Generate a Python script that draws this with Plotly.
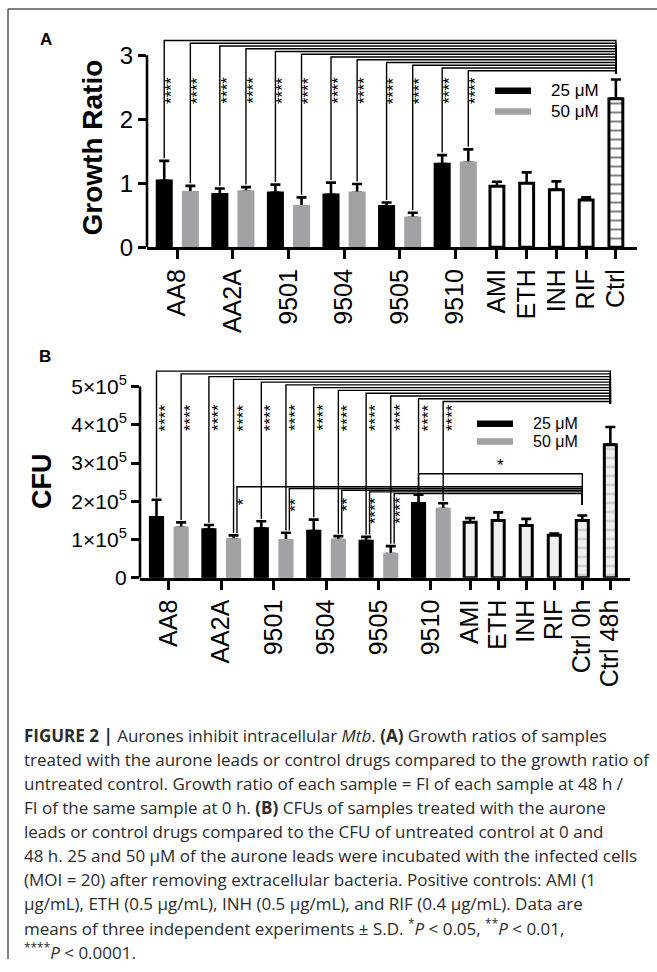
import plotly.graph_objects as go

# ---------------- data ----------------
compounds = ["AA8", "AA2A", "9501", "9504", "9505", "9510"]
controls_a = ["AMI", "ETH", "INH", "RIF", "Ctrl"]
controls_b = ["AMI", "ETH", "INH", "RIF", "Ctrl 0h", "Ctrl 48h"]
dose_labels = ["25 μM", "50 μM"]

# Panel A: growth ratio
ratio_25 = [1.04, 0.83, 0.85, 0.82, 0.64, 1.30]
ratio_25_sd = [0.31, 0.09, 0.13, 0.19, 0.06, 0.14]
ratio_50 = [0.86, 0.87, 0.64, 0.85, 0.46, 1.32]
ratio_50_sd = [0.10, 0.07, 0.14, 0.14, 0.08, 0.21]
ratio_ctrl = [0.955, 1.00, 0.90, 0.74, 2.32]
ratio_ctrl_sd = [0.07, 0.17, 0.13, 0.04, 0.30]

# Panel B: CFU
cfu_25 = [1.58e5, 1.26e5, 1.29e5, 1.22e5, 0.96e5, 1.95e5]
cfu_25_sd = [0.46e5, 0.12e5, 0.19e5, 0.30e5, 0.11e5, 0.22e5]
cfu_50 = [1.31e5, 1.00e5, 0.98e5, 0.99e5, 0.62e5, 1.80e5]
cfu_50_sd = [0.14e5, 0.11e5, 0.20e5, 0.10e5, 0.21e5, 0.15e5]
cfu_ctrl = [1.45e5, 1.50e5, 1.37e5, 1.11e5, 1.50e5, 3.48e5]
cfu_ctrl_sd = [0.11e5, 0.21e5, 0.17e5, 0.05e5, 0.13e5, 0.46e5]

# significance (order: AA8-25, AA8-50, AA2A-25, AA2A-50, ...)
stars_a_vs_ctrl = ["****"] * 12
stars_b_vs_48h = ["****"] * 12
stars_b_vs_0h = ["", "", "", "*", "", "**", "", "**", "****", "****", "", ""]
stars_b_9510_vs_0h = "*"

ytick_a = [0, 1, 2, 3]
ytick_b = [0, 1e5, 2e5, 3e5, 4e5, 5e5]
ytick_b_text = ["0"] + [f"{i}×10<sup>5</sup>" for i in range(1, 6)]

caption_lines = [
    "<b>FIGURE 2 |</b> Aurones inhibit intracellular <i>Mtb</i>. <b>(A)</b> Growth ratios of samples",
    "treated with the aurone leads or control drugs compared to the growth ratio of",
    "untreated control. Growth ratio of each sample = FI of each sample at 48 h /",
    "FI of the same sample at 0 h. <b>(B)</b> CFUs of samples treated with the aurone",
    "leads or control drugs compared to the CFU of untreated control at 0 and",
    "48 h. 25 and 50 μM of the aurone leads were incubated with the infected cells",
    "(MOI = 20) after removing extracellular bacteria. Positive controls: AMI (1",
    "μg/mL), ETH (0.5 μg/mL), INH (0.5 μg/mL), and RIF (0.4 μg/mL). Data are",
    "means of three independent experiments ± S.D. <sup>*</sup><i>P</i> &lt; 0.05, <sup>**</sup><i>P</i> &lt; 0.01,",
    "<sup>****</sup><i>P</i> &lt; 0.0001.",
]

# ---------------- layout helpers ----------------
W, H = 657, 972
FONT = "Liberation Sans, Arial, Helvetica, sans-serif"
CAP_FONT = "Open Sans, Liberation Sans, Arial, sans-serif"
BLACK = "#000000"
GRAY = "#a2a2a6"


def pxx(p):
    return p / W


def pxy(p):
    return 1 - p / H


PAIR_OFF = 0.47
gc = [1 + 2 * i for i in range(len(compounds))]
x25 = [g - PAIR_OFF for g in gc]
x50 = [g + PAIR_OFF for g in gc]
xs_a = [12.5 + 1.07 * j for j in range(len(controls_a))]
xs_b = [12.5 + 1.07 * j for j in range(len(controls_b))]


def interleave(a, b):
    out = []
    for p, q in zip(a, b):
        out += [p, q]
    return out


fig = go.Figure()
shapes = []
annos = []


def add_panel(xa, ya, xs, v25, e25, v50, e50, vc, ec, pair_w, single_w, ctrl_fill, ctrl_pattern_bg, ctrl_stripe, n_patterned):
    allx = x25 + x50 + xs
    allv = v25 + v50 + vc
    alle = e25 + e50 + ec
    # carrier trace for the upper error bars (drawn beneath the visible bars)
    fig.add_trace(go.Bar(
        x=allx, y=allv, width=0.05, marker=dict(color="rgba(0,0,0,0)"),
        error_y=dict(type="data", array=alle, arrayminus=[0] * len(alle), symmetric=False,
                     color=BLACK, thickness=2.6, width=5),
        xaxis=xa, yaxis=ya, hoverinfo="skip", showlegend=False))
    fig.add_trace(go.Bar(x=x25, y=v25, width=pair_w, name=dose_labels[0],
                         marker=dict(color=BLACK, line=dict(color=BLACK, width=2.6)),
                         xaxis=xa, yaxis=ya, showlegend=False))
    fig.add_trace(go.Bar(x=x50, y=v50, width=pair_w, name=dose_labels[1],
                         marker=dict(color=GRAY, line=dict(color=GRAY, width=2.6)),
                         xaxis=xa, yaxis=ya, showlegend=False))
    k = len(xs) - n_patterned
    fig.add_trace(go.Bar(x=xs[:k], y=vc[:k], width=single_w,
                         marker=dict(color=ctrl_fill, line=dict(color=BLACK, width=3)),
                         xaxis=xa, yaxis=ya, showlegend=False))
    fig.add_trace(go.Bar(x=xs[k:], y=vc[k:], width=single_w,
                         marker=dict(color=ctrl_pattern_bg, line=dict(color=BLACK, width=3),
                                     pattern=dict(shape="-", fgcolor=ctrl_stripe, bgcolor=ctrl_pattern_bg,
                                                  size=9, solidity=0.22)),
                         xaxis=xa, yaxis=ya, showlegend=False))


add_panel("x", "y", xs_a, ratio_25, ratio_25_sd, ratio_50, ratio_50_sd, ratio_ctrl, ratio_ctrl_sd,
          0.52, 0.50, "white", "white", BLACK, 1)
add_panel("x2", "y2", xs_b, cfu_25, cfu_25_sd, cfu_50, cfu_50_sd, cfu_ctrl, cfu_ctrl_sd,
          0.48, 0.46, "#f0f0f0", "#efefef", "#9a9a9a", 2)

comp_x = interleave(x25, x50)
comp_top_a = [v + e for v, e in zip(interleave(ratio_25, ratio_50), interleave(ratio_25_sd, ratio_50_sd))]
comp_top_b = [v + e for v, e in zip(interleave(cfu_25, cfu_50), interleave(cfu_25_sd, cfu_50_sd))]

LW = 1.4


def bracket(xref, yref, x1, y1, lvl, x2, y2):
    shapes.append(dict(type="path", xref=xref, yref=yref,
                       path=f"M{x1},{y1} L{x1},{lvl} L{x2},{lvl} L{x2},{y2}",
                       line=dict(color=BLACK, width=LW)))


def stars(xref, yref, x, y, txt, size=17):
    annos.append(dict(xref=xref, yref=yref, x=x, y=y, text=txt, showarrow=False, textangle=-90,
                      font=dict(family=FONT, size=size, color=BLACK), xanchor="center", yanchor="middle"))


# ---- Panel A brackets: each compound vs Ctrl ----
ctrl_x_a = xs_a[-1]
for i, (x, top) in enumerate(zip(comp_x, comp_top_a)):
    lvl = 3.23 - i * 0.043
    bracket("x", "y", x, top + 0.04, lvl, ctrl_x_a, 2.71)
    stars("x", "y", x + 0.26, 2.45, stars_a_vs_ctrl[i])

# ---- Panel B brackets: vs Ctrl 48h ----
c48 = xs_b[-1]
c0 = xs_b[-2]
for i, (x, top) in enumerate(zip(comp_x, comp_top_b)):
    lvl = 5.40e5 - i * 0.072e5
    bracket("x2", "y2", x, top + 0.06e5, lvl, c48, 4.55e5)
    stars("x2", "y2", x + 0.36, 4.19e5, stars_b_vs_48h[i])

# ---- Panel B brackets: vs Ctrl 0h ----
j = 0
for i, (x, top) in enumerate(zip(comp_x, comp_top_b)):
    s = stars_b_vs_0h[i]
    if not s:
        continue
    lvl = 2.38e5 - j * 0.045e5
    bracket("x2", "y2", x + 0.13, top + 0.06e5, lvl, c0, 1.91e5)
    stars("x2", "y2", x + 0.36, 2.08e5 - len(s) * 0.08e5, s)
    j += 1
# 9510 (25 µM) vs Ctrl 0h
x9510 = x25[5]
bracket("x2", "y2", x9510, 2.38e5, 2.72e5, c0, 2.38e5)
annos.append(dict(xref="x2", yref="y2", x=(x9510 + c0) / 2, y=2.93e5, text=stars_b_9510_vs_0h,
                  showarrow=False, xanchor="center", yanchor="middle",
                  font=dict(family=FONT, size=17, color=BLACK)))

# ---- y-axis lines (only up to the top tick) ----
shapes.append(dict(type="line", xref="x domain", yref="y", x0=0, x1=0, y0=0, y1=ytick_a[-1],
                   line=dict(color=BLACK, width=2.6)))
shapes.append(dict(type="line", xref="x2 domain", yref="y2", x0=0, x1=0, y0=0, y1=ytick_b[-1],
                   line=dict(color=BLACK, width=2.6)))


# ---- legends ----
def legend(x0, x1, yc, h, tx, label_size):
    for k, (col, lab) in enumerate(zip([BLACK, GRAY], dose_labels)):
        y = yc[k]
        shapes.append(dict(type="rect", xref="paper", yref="paper", x0=pxx(x0), x1=pxx(x1),
                           y0=pxy(y - h / 2), y1=pxy(y + h / 2), fillcolor=col, line=dict(width=0)))
        annos.append(dict(xref="paper", yref="paper", x=pxx(tx), y=pxy(y), text=lab, showarrow=False,
                          xanchor="left", yanchor="middle", font=dict(family=FONT, size=label_size, color=BLACK)))


legend(495, 531, [92, 113], 6.5, 549, 17)
legend(477, 513, [429.5, 447.5], 6.5, 531, 16)


def label(x, y, txt, size, angle=0):
    annos.append(dict(xref="paper", yref="paper", x=pxx(x), y=pxy(y), text=txt, textangle=angle,
                      showarrow=False, xanchor="center", yanchor="middle",
                      font=dict(family=FONT, size=size, color=BLACK)))


# ---- axis titles and panel letters ----
label(92.5, 150, "<b>Growth Ratio</b>", 28, -90)
label(42.5, 488, "<b>CFU</b>", 27, -90)
label(46, 40, "<b>A</b>", 17)
label(45, 361, "<b>B</b>", 17)

# ---- caption ----
for i, line in enumerate(caption_lines):
    annos.append(dict(xref="paper", yref="paper", x=pxx(22), y=pxy(745 + 24.4 * i), text=line,
                      showarrow=False, xanchor="left", yanchor="middle", align="left",
                      font=dict(family=CAP_FONT, size=17, color="#2b2b2b")))

# ---- frame ----
shapes.append(dict(type="line", xref="paper", yref="paper", x0=pxx(8), x1=1, y0=pxy(9), y1=pxy(9),
                   line=dict(color="#555555", width=1.5)))
shapes.append(dict(type="line", xref="paper", yref="paper", x0=pxx(8), x1=pxx(8), y0=pxy(9), y1=0,
                   line=dict(color="#555555", width=1.5)))

# ---- axes ----
ax_common = dict(showgrid=False, zeroline=False, ticks="outside", tickcolor=BLACK, tickwidth=2.6,
                 color=BLACK)
fig.update_layout(
    width=W, height=H, margin=dict(l=0, r=0, t=0, b=0),
    paper_bgcolor="white", plot_bgcolor="white", barmode="overlay", showlegend=False,
    font=dict(family=FONT, color=BLACK),
    xaxis=dict(domain=[pxx(147), pxx(637)], range=[-0.09, 17.54], anchor="y",
               tickvals=gc + xs_a, ticktext=compounds + controls_a, tickangle=-90, ticklen=9,
               tickfont=dict(size=25), showline=True, linewidth=2.6, linecolor=BLACK, **ax_common),
    yaxis=dict(domain=[pxy(250.7), pxy(36.5)], range=[0, 3.3], anchor="x",
               tickvals=ytick_a, ticklen=8, tickfont=dict(size=24), showline=False, **ax_common),
    xaxis2=dict(domain=[pxx(140), pxx(630)], range=[-0.1, 18.6], anchor="y2",
                tickvals=gc + xs_b, ticktext=compounds + controls_b, tickangle=-90, ticklen=9,
                tickfont=dict(size=25), showline=True, linewidth=2.6, linecolor=BLACK, **ax_common),
    yaxis2=dict(domain=[pxy(585.7), pxy(368.4)], range=[0, 5.6e5], anchor="x2",
                tickvals=ytick_b, ticktext=ytick_b_text, ticklen=8, tickfont=dict(size=21),
                showline=False, **ax_common),
    shapes=shapes, annotations=annos,
)

fig.write_html("out.html", config={"displayModeBar": False},
               post_script="document.body.style.margin='0';document.body.style.overflow='hidden';")
